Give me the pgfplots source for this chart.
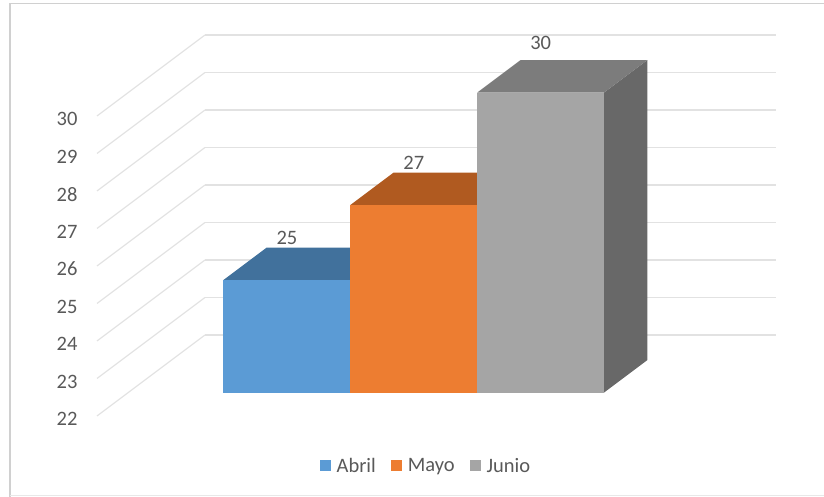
\documentclass[border=0pt]{standalone}
\usepackage{pgfplots}
\pgfplotsset{compat=1.18}
\usepackage{fontspec}
\setmainfont{Carlito}
\definecolor{txt}{HTML}{595959}
\definecolor{gridc}{HTML}{E2E2E2}
\definecolor{frm}{HTML}{D0D0D0}
\definecolor{afront}{HTML}{5B9BD5}
\definecolor{atop}{HTML}{41719C}
\definecolor{mfront}{HTML}{ED7D31}
\definecolor{mtop}{HTML}{B05A20}
\definecolor{jfront}{HTML}{A5A5A5}
\definecolor{jtop}{HTML}{7C7C7C}
\definecolor{jside}{HTML}{686868}
% a 3-D bar: #1 left x, #2 right x, #3 value, #4 front, #5 top, #6 side
\newcommand{\threedbar}[6]{%
  \addplot3[fill=#6,draw=none,forget plot] coordinates {(#2,0.29,22)(#2,0.69,22)(#2,0.69,#3)(#2,0.29,#3)} --cycle;
  \addplot3[fill=#5,draw=none,forget plot] coordinates {(#1,0.29,#3)(#2,0.29,#3)(#2,0.69,#3)(#1,0.69,#3)} --cycle;
  \addplot3[fill=#4,draw=none] coordinates {(#1,0.29,22)(#2,0.29,22)(#2,0.29,#3)(#1,0.29,#3)} --cycle;
}
\begin{document}
\begin{tikzpicture}[x=1pt,y=1pt]
\path[use as bounding box] (0,0) rectangle (824,497);
\draw[frm,line width=1.2pt] (10,-2) -- (10,493.5) -- (830,493.5);
\draw[frm!50,line width=0.8pt] (10,1.5) -- (830,1.5);
\begin{axis}[
  at={(97pt,81pt)}, anchor=south west,
  x={(190.33pt,0pt)}, y={(108pt,81pt)}, z={(0pt,37.5pt)},
  xmin=0,xmax=3,ymin=0,ymax=1,zmin=22,zmax=30,
  xtick=\empty, ytick=\empty, ztick={22,23,...,30},
  zticklabel pos=left,
  grid=major,
  major grid style={gridc,line width=1.2pt},
  axis line style={draw=none},
  tick style={draw=none},
  clip=false,
  /pgf/number format/assume math mode=true,
  tick label style={font=\fontsize{20.5}{24}\selectfont,text=txt},
  z tick label style={xshift=-16pt,yshift=1.5pt},
  legend style={at={(axis description cs:0.4845,-0.131)},anchor=center,draw=none,fill=none,
    legend columns=3,font=\fontsize{20.5}{24}\selectfont,text=txt,
    /tikz/every even column/.append style={column sep=13pt},
    /tikz/every odd column/.append style={column sep=4pt}},
  legend image code/.code={\fill[#1] (0pt,-5.5pt) rectangle (11pt,5.5pt);},
]
\threedbar{0.5}{1.1667}{25}{afront}{atop}{atop}
\addlegendentry{Abril}
\threedbar{1.1667}{1.8333}{27}{mfront}{mtop}{mtop}
\addlegendentry{Mayo}
\threedbar{1.8333}{2.5}{30}{jfront}{jtop}{jside}
\addlegendentry{Junio}
\addplot3[forget plot,draw=none,mark=none,point meta=z,nodes near coords,
  nodes near coords style={anchor=center,yshift=42pt,text=txt,font=\fontsize{20.5}{24}\selectfont}]
  coordinates {(0.8333,0.29,25)(1.5,0.29,27)};
\addplot3[forget plot,draw=none,mark=none,point meta=z,nodes near coords,
  nodes near coords style={anchor=center,yshift=50pt,text=txt,font=\fontsize{20.5}{24}\selectfont}]
  coordinates {(2.1667,0.29,30)};
\end{axis}
\end{tikzpicture}
\end{document}
